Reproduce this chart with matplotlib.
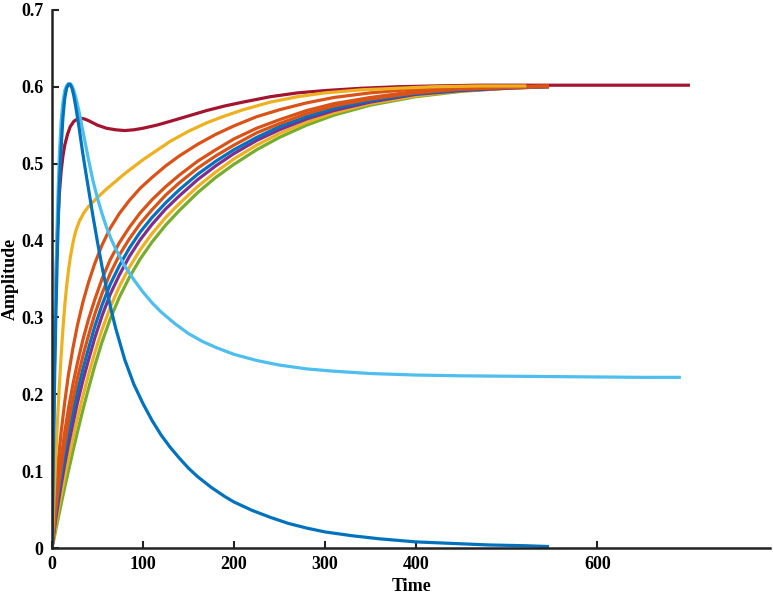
import matplotlib
matplotlib.use("Agg")
import matplotlib.pyplot as plt

# --- Data ---
# dark blue: fast rise, decays to zero
t_dblue = [0, 1, 2, 3, 4, 6, 8, 10, 12, 14, 16, 18, 20, 22, 24, 26, 28, 30, 33, 36,
           40, 45, 50, 55, 60, 65, 70, 80, 90, 100, 110, 120, 130, 140, 150, 160,
           175, 190, 200, 220, 240, 260, 280, 300, 330, 360, 400, 440, 480, 520, 545]
v_dblue = [0, 0.08, 0.16, 0.23, 0.29, 0.39, 0.47, 0.52, 0.56, 0.585, 0.598, 0.603,
           0.603, 0.598, 0.588, 0.575, 0.56, 0.545, 0.52, 0.497, 0.468, 0.432, 0.398,
           0.366, 0.337, 0.31, 0.286, 0.245, 0.213, 0.188, 0.166, 0.147, 0.131,
           0.117, 0.104, 0.093, 0.079, 0.067, 0.06, 0.049, 0.04, 0.032, 0.026,
           0.021, 0.016, 0.012, 0.008, 0.006, 0.004, 0.003, 0.002]

# light blue: fast rise, settles at ~0.22
t_lblue = [0, 1, 2, 3, 4, 6, 8, 10, 12, 14, 16, 18, 20, 22, 24, 26, 28, 30, 33, 36,
           40, 45, 50, 55, 60, 65, 70, 80, 90, 100, 110, 120, 135, 150, 165, 180,
           200, 225, 250, 280, 310, 350, 400, 450, 500, 550, 600, 650, 690]
v_lblue = [0, 0.09, 0.18, 0.26, 0.33, 0.44, 0.51, 0.555, 0.58, 0.595, 0.601, 0.604,
           0.604, 0.601, 0.595, 0.587, 0.577, 0.566, 0.548, 0.53, 0.506, 0.478,
           0.455, 0.435, 0.417, 0.402, 0.389, 0.367, 0.349, 0.333, 0.319, 0.307,
           0.292, 0.279, 0.269, 0.261, 0.252, 0.244, 0.238, 0.233, 0.23, 0.227,
           0.225, 0.224, 0.2235, 0.223, 0.2225, 0.222, 0.222]

# dark red: overshoot, dip, then settles at 0.6
t_red = [0, 1, 2, 3, 4, 5, 6, 8, 10, 12, 14, 17, 20, 24, 28, 32, 36, 40, 45, 50, 60,
         70, 80, 90, 100, 115, 130, 150, 170, 190, 210, 240, 270, 300, 340, 380,
         420, 470, 520, 600, 700]
v_red = [0, 0.10, 0.19, 0.27, 0.33, 0.38, 0.415, 0.46, 0.49, 0.51, 0.524, 0.538,
         0.548, 0.555, 0.558, 0.559, 0.558, 0.556, 0.553, 0.55, 0.546, 0.544, 0.543,
         0.544, 0.546, 0.55, 0.555, 0.562, 0.569, 0.575, 0.58, 0.587, 0.592, 0.595,
         0.598, 0.60, 0.601, 0.602, 0.602, 0.602, 0.602]

# upper yellow: quick rise to ~0.44 then slow approach
t_yel = [0, 2, 4, 6, 8, 10, 12, 14, 16, 18, 20, 23, 26, 30, 35, 40, 50, 60, 70, 80,
         90, 100, 115, 130, 150, 170, 190, 210, 240, 270, 300, 340, 380, 420, 470,
         520]
v_yel = [0, 0.06, 0.115, 0.165, 0.21, 0.25, 0.285, 0.315, 0.34, 0.36, 0.377, 0.397,
         0.412, 0.425, 0.436, 0.444, 0.456, 0.467, 0.477, 0.487, 0.496, 0.505,
         0.517, 0.529, 0.542, 0.553, 0.562, 0.57, 0.58, 0.587, 0.592, 0.596, 0.598,
         0.60, 0.601, 0.601]

# bundle of slower rising curves, shared time grid
t_bundle = [0, 2, 4, 7, 10, 14, 18, 23, 28, 34, 40, 47, 55, 64, 74, 85, 97, 110,
            125, 140, 160, 180, 200, 225, 250, 280, 310, 350, 400, 450, 500, 545]
v_orange1 = [0, 0.04, 0.075, 0.115, 0.15, 0.19, 0.225, 0.26, 0.29, 0.32, 0.345,
             0.37, 0.394, 0.416, 0.435, 0.452, 0.468, 0.482, 0.497, 0.51, 0.525,
             0.538, 0.549, 0.561, 0.57, 0.579, 0.586, 0.592, 0.597, 0.599, 0.60,
             0.601]
v_orange2 = [0, 0.03, 0.057, 0.089, 0.117, 0.151, 0.181, 0.213, 0.241, 0.271, 0.297,
             0.323, 0.35, 0.375, 0.397, 0.417, 0.436, 0.453, 0.47, 0.485, 0.503,
             0.518, 0.532, 0.546, 0.557, 0.569, 0.578, 0.586, 0.594, 0.597, 0.599,
             0.601]
v_orange3 = [0, 0.026, 0.049, 0.078, 0.104, 0.135, 0.163, 0.193, 0.221, 0.25, 0.276,
             0.304, 0.331, 0.357, 0.381, 0.402, 0.422, 0.44, 0.459, 0.475, 0.494,
             0.51, 0.524, 0.54, 0.552, 0.565, 0.575, 0.584, 0.592, 0.597, 0.599,
             0.60]
v_blue = [0, 0.022, 0.043, 0.069, 0.092, 0.121, 0.148, 0.177, 0.204, 0.233, 0.259,
          0.288, 0.316, 0.343, 0.367, 0.39, 0.411, 0.43, 0.449, 0.466, 0.486, 0.503,
          0.518, 0.534, 0.548, 0.561, 0.572, 0.582, 0.591, 0.596, 0.599, 0.60]
v_purple = [0, 0.019, 0.037, 0.06, 0.082, 0.109, 0.134, 0.162, 0.189, 0.218, 0.244,
            0.273, 0.302, 0.33, 0.355, 0.379, 0.401, 0.421, 0.441, 0.458, 0.479,
            0.497, 0.513, 0.53, 0.544, 0.558, 0.569, 0.58, 0.59, 0.595, 0.598, 0.60]
v_yellow2 = [0, 0.015, 0.03, 0.05, 0.069, 0.093, 0.116, 0.143, 0.169, 0.198, 0.225,
             0.254, 0.284, 0.313, 0.34, 0.365, 0.388, 0.409, 0.43, 0.448, 0.47,
             0.489, 0.506, 0.524, 0.539, 0.554, 0.566, 0.578, 0.588, 0.595, 0.598,
             0.60]
v_green = [0, 0.011, 0.023, 0.04, 0.057, 0.079, 0.10, 0.126, 0.151, 0.18, 0.207,
           0.237, 0.268, 0.298, 0.326, 0.352, 0.376, 0.398, 0.42, 0.439, 0.462,
           0.482, 0.499, 0.518, 0.534, 0.55, 0.563, 0.576, 0.587, 0.594, 0.598, 0.60]

x_ticks = [0, 100, 200, 300, 400, 600]
y_ticks = [0, 0.1, 0.2, 0.3, 0.4, 0.5, 0.6, 0.7]
y_ticklabels = ["0", "0.1", "0.2", "0.3", "0.4", "0.5", "0.6", "0.7"]

# MATLAB-style colours
C_BLUE = "#0072BD"
C_ORANGE = "#D95319"
C_YELLOW = "#EDB120"
C_PURPLE = "#7E2F8E"
C_GREEN = "#77AC30"
C_LBLUE = "#4DBEEE"
C_RED = "#A2142F"

plt.rcParams["font.family"] = ["Liberation Serif", "DejaVu Serif"]

fig = plt.figure(figsize=(7.73, 5.94), dpi=100)
ax = fig.add_axes([0.0673, 0.0774, 0.929, 0.906])

lw = 2.3
ax.plot(t_red, v_red, color=C_RED, lw=lw)
ax.plot(t_bundle, v_green, color=C_GREEN, lw=lw)
ax.plot(t_bundle, v_yellow2, color=C_YELLOW, lw=lw)
ax.plot(t_bundle, v_purple, color=C_PURPLE, lw=lw)
ax.plot(t_bundle, v_blue, color=C_BLUE, lw=lw)
ax.plot(t_bundle, v_orange3, color=C_ORANGE, lw=lw)
ax.plot(t_bundle, v_orange2, color=C_ORANGE, lw=lw)
ax.plot(t_bundle, v_orange1, color=C_ORANGE, lw=lw)
ax.plot(t_yel, v_yel, color=C_YELLOW, lw=lw)
ax.plot(t_lblue, v_lblue, color=C_LBLUE, lw=lw)
ax.plot(t_dblue, v_dblue, color=C_BLUE, lw=lw)

ax.set_xlim(0, 790)
ax.set_ylim(0, 0.7)
ax.set_xticks(x_ticks)
ax.set_xticklabels([str(v) for v in x_ticks], fontsize=13, fontweight="bold")
ax.set_yticks(y_ticks)
ax.set_yticklabels(y_ticklabels, fontsize=13, fontweight="bold")
ax.tick_params(axis="x", direction="in", length=5, width=1.5, color="#222222", pad=6)
ax.tick_params(axis="y", direction="in", length=5, width=1.5, color="#222222", pad=6)

for side in ["top", "right"]:
    ax.spines[side].set_visible(False)
for side in ["left", "bottom"]:
    ax.spines[side].set_linewidth(1.8)
    ax.spines[side].set_color("#222222")

ax.set_xlabel("Time", fontsize=13, fontweight="bold", labelpad=3)
ax.set_ylabel("Amplitude", fontsize=13, fontweight="bold", labelpad=2)

fig.savefig("out.png", dpi=100)
